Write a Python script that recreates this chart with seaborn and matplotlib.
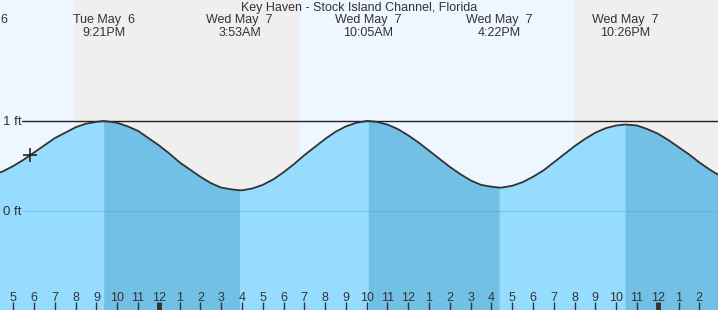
import numpy as np
import pandas as pd
import seaborn as sns
import matplotlib.pyplot as plt
import matplotlib.transforms as mtransforms

# tide height (ft), hours counted from midnight May 6
hours = [16, 16.5, 17, 17.5, 18, 18.5, 19, 19.5, 20, 20.5, 21, 21.35,
         22, 22.5, 23, 23.5, 24, 24.5, 25, 25.5, 26, 26.5, 27, 27.5, 27.88,
         28, 28.5, 29, 29.5, 30, 30.5, 31, 31.5, 32, 32.5, 33, 33.5, 34, 34.08,
         34.5, 35, 35.5, 36, 36.5, 37, 37.5, 38, 38.5, 39, 39.5, 40, 40.37,
         40.5, 41, 41.5, 42, 42.5, 43, 43.5, 44, 44.5, 45, 45.5, 46, 46.43,
         46.5, 47, 47.5, 48, 48.5, 49, 49.5, 50, 50.5, 51]
heights = [0.40, 0.44, 0.50, 0.57, 0.65, 0.73, 0.81, 0.87, 0.93, 0.97, 0.99, 1.00,
           0.98, 0.94, 0.89, 0.81, 0.73, 0.64, 0.54, 0.46, 0.38, 0.31, 0.26, 0.24, 0.23,
           0.23, 0.25, 0.29, 0.35, 0.43, 0.52, 0.62, 0.71, 0.80, 0.88, 0.94, 0.98, 1.00, 1.00,
           0.99, 0.96, 0.91, 0.84, 0.76, 0.67, 0.58, 0.49, 0.41, 0.34, 0.29, 0.27, 0.26,
           0.26, 0.28, 0.32, 0.38, 0.45, 0.54, 0.63, 0.72, 0.80, 0.87, 0.92, 0.95, 0.96,
           0.96, 0.95, 0.91, 0.86, 0.79, 0.71, 0.63, 0.54, 0.46, 0.39]

# highs and lows
ext_t = [15.25, 21.35, 27.88, 34.08, 40.37, 46.43]
ext_kind = ['low', 'high', 'low', 'high', 'low', 'high']
ext_day = ['Tue May  6', 'Tue May  6', 'Wed May  7', 'Wed May  7', 'Wed May  7', 'Wed May  7']
ext_time = ['3:15PM', '9:21PM', '3:53AM', '10:05AM', '4:22PM', '10:26PM']

# sunset / sunrise
sun_t = [19.97, 30.79, 43.97]

now_t, now_h = 17.8, 0.62

x0, x1 = 16.36, 50.9
y0, y1 = -1.1, 2.344

df = pd.DataFrame({'t': hours, 'h': heights})

sns.set_theme(style='white')
plt.rcParams['font.family'] = ['Liberation Sans', 'DejaVu Sans']

fig = plt.figure(figsize=(7.18, 3.10), dpi=100)
ax = fig.add_axes([0, 0, 1, 1])
ax.set_xlim(x0, x1)
ax.set_ylim(y0, y1)
ax.set_axisbelow(False)

day_c = '#eef6ff'
night_c = '#efefef'
edges = [x0] + sun_t + [x1]
for i in range(len(edges) - 1):
    ax.axvspan(edges[i], edges[i + 1], color=day_c if i % 2 == 0 else night_c, lw=0, zorder=0)

ax.fill_between(df.t, df.h, y0, color='#96dcff', lw=0, zorder=1)
highs = [t for t, k in zip(ext_t, ext_kind) if k == 'high']
lows = [t for t, k in zip(ext_t, ext_kind) if k == 'low'] + [x1 + 1]
for hi in highs:
    lo = min(l for l in lows if l > hi)
    seg = df[(df.t >= hi) & (df.t <= lo)]
    ax.fill_between(seg.t, seg.h, y0, color='#72c0e6', lw=0, zorder=1)

ax.axhline(0, xmin=22 / 718, color='#3a9ed6', alpha=0.3, lw=1, zorder=2)
ax.axhline(1, xmin=22 / 718, color='#222222', lw=1, zorder=2)

sns.lineplot(data=df, x='t', y='h', color='#333333', lw=1.3, ax=ax, zorder=3)
ax.plot([now_t], [now_h], marker='+', ms=10, mew=1.2, color='#222222', zorder=4)

ytr = mtransforms.blended_transform_factory(ax.transAxes, ax.transData)
ax.text(3 / 718, 0.99, '1 ft', ha='left', va='center', fontsize=9.5, color='#333333', transform=ytr)
ax.text(3 / 718, -0.01, '0 ft', ha='left', va='center', fontsize=9.5, color='#333333', transform=ytr)

ax.text(0.5, 1 - 7.5 / 310, 'Key Haven - Stock Island Channel, Florida', ha='center', va='center',
        fontsize=9, color='#333333', transform=ax.transAxes)

tr = mtransforms.blended_transform_factory(ax.transData, ax.transAxes)
for t, d, tm in zip(ext_t, ext_day, ext_time):
    ax.text(t, 1 - 19.5 / 310, d, ha='center', va='center', fontsize=9, color='#333333', transform=tr)
    ax.text(t, 1 - 32.5 / 310, tm, ha='center', va='center', fontsize=9, color='#333333', transform=tr)

ticks = list(range(17, 51))
ax.set_xticks(ticks)
ax.set_xticklabels([str((h - 1) % 12 + 1) for h in ticks])
ax.set_yticks([])
ax.tick_params(axis='x', direction='in', length=6, width=1, pad=-13, labelsize=9,
               colors='#333333', bottom=True)
for h, tk in zip(ticks, ax.xaxis.get_major_ticks()):
    if h % 24 == 0:
        tk.tick1line.set_markeredgewidth(3.5)
ax.set_xlabel('')
ax.set_ylabel('')
for s in ax.spines.values():
    s.set_visible(False)

fig.savefig('out.png', dpi=100)
